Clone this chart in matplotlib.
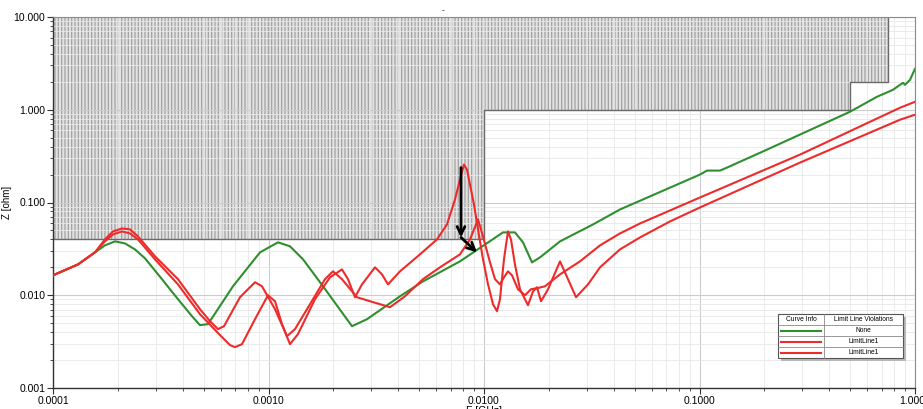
import matplotlib
matplotlib.use('Agg')
import matplotlib.pyplot as plt
from matplotlib.patches import Rectangle
from matplotlib.lines import Line2D
import matplotlib.ticker as mticker

plt.rcParams['font.family'] = ['Liberation Sans', 'DejaVu Sans']
plt.rcParams['hatch.linewidth'] = 0.9

# limit mask: frequency breakpoints (GHz) and lower edge of the forbidden area (ohm)
lim_f = [0.0001, 0.01, 0.5, 0.75]
lim_z = [0.04, 1.0, 2.0, 2.0]
lim_top = 10.0

# curve 1 (green) - passes the limit
f_green = [1.00e-4, 1.306e-4, 1.566e-4, 1.742e-4, 1.940e-4, 2.158e-4, 2.401e-4, 2.673e-4,
           3.204e-4, 3.802e-4, 4.416e-4, 4.809e-4, 5.239e-4, 6.843e-4, 9.132e-4, 1.107e-3,
           1.258e-3, 1.446e-3, 1.790e-3, 2.440e-3, 2.865e-3, 4.075e-3, 5.210e-3, 7.735e-3,
           1.225e-2, 1.392e-2, 1.517e-2, 1.670e-2, 1.819e-2, 2.253e-2, 3.205e-2, 4.276e-2,
           0.1005, 0.1083, 0.1245, 0.1341, 0.2056, 0.4993, 0.6662, 0.7903, 0.8520, 0.8797,
           0.8986, 0.9480, 1.000]
z_green = [0.0164, 0.0215, 0.0290, 0.0345, 0.0381, 0.0362, 0.0312, 0.0250,
           0.0149, 0.00906, 0.00594, 0.00476, 0.00488, 0.0125, 0.0290, 0.0372,
           0.0337, 0.0244, 0.0125, 0.00464, 0.00552, 0.00975, 0.0141, 0.0232,
           0.0476, 0.0476, 0.0372, 0.0226, 0.0256, 0.0381, 0.0580, 0.0841,
           0.200, 0.2208, 0.2208, 0.2378, 0.3715, 0.9517, 1.380, 1.641, 1.857, 1.951,
           1.857, 2.101, 2.760]

# curve 2 (red) - second resonance just below 10 MHz
f_red_a = [1.00e-4, 1.306e-4, 1.566e-4, 1.742e-4, 1.899e-4, 2.090e-4, 2.277e-4, 2.479e-4,
           2.973e-4, 3.802e-4, 4.809e-4, 5.352e-4, 5.830e-4, 6.216e-4, 7.375e-4, 8.657e-4,
           9.329e-4, 1.072e-3, 1.218e-3, 1.327e-3, 1.558e-3, 1.829e-3, 1.992e-3, 2.193e-3,
           2.574e-3, 2.958e-3, 3.663e-3, 4.298e-3, 5.210e-3, 6.248e-3, 7.735e-3, 8.610e-3,
           9.380e-3, 9.895e-3, 1.066e-2, 1.125e-2, 1.186e-2, 1.238e-2, 1.292e-2, 1.349e-2,
           1.438e-2, 1.550e-2, 1.652e-2, 1.761e-2, 1.919e-2, 2.253e-2, 2.790e-2, 3.454e-2,
           4.276e-2, 5.295e-2, 0.1005, 0.2926, 0.8520, 1.000]
z_red_a = [0.0164, 0.0215, 0.0290, 0.0400, 0.0488, 0.0525, 0.0513, 0.0431,
           0.0263, 0.0149, 0.00707, 0.00525, 0.00431, 0.00464, 0.00952, 0.0138,
           0.0125, 0.00707, 0.00362, 0.00431, 0.00800, 0.0149, 0.0181, 0.0149,
           0.00952, 0.00862, 0.00743, 0.00975, 0.0149, 0.0200, 0.0276, 0.0400,
           0.0657, 0.0431, 0.0226, 0.0149, 0.0131, 0.0156, 0.0181, 0.0164,
           0.0116, 0.0100, 0.0116, 0.0119, 0.0125, 0.0168, 0.0232, 0.0345,
           0.0464, 0.0594, 0.1132, 0.3282, 1.051, 1.219]

# curve 3 (red) - sharp resonance at 8 MHz inside the limit
f_red_b = [1.00e-4, 1.306e-4, 1.566e-4, 1.742e-4, 1.899e-4, 2.090e-4, 2.277e-4, 2.479e-4,
           2.973e-4, 3.802e-4, 4.809e-4, 5.955e-4, 6.627e-4, 6.991e-4, 7.535e-4, 8.657e-4,
           9.947e-4, 1.072e-3, 1.155e-3, 1.258e-3, 1.370e-3, 1.643e-3, 1.929e-3, 2.193e-3,
           2.338e-3, 2.520e-3, 2.716e-3, 3.120e-3, 3.362e-3, 3.585e-3, 4.075e-3, 5.045e-3,
           6.051e-3, 6.733e-3, 7.334e-3, 7.735e-3, 8.073e-3, 8.336e-3, 8.610e-3, 8.985e-3,
           9.380e-3, 9.895e-3, 1.044e-2, 1.101e-2, 1.149e-2, 1.186e-2, 1.238e-2, 1.292e-2,
           1.334e-2, 1.392e-2, 1.469e-2, 1.600e-2, 1.688e-2, 1.761e-2, 1.839e-2, 1.982e-2,
           2.253e-2, 2.454e-2, 2.673e-2, 3.039e-2, 3.454e-2, 4.276e-2, 5.295e-2, 7.295e-2,
           0.1005, 0.2926, 0.8520, 1.000]
z_red_b = [0.0164, 0.0215, 0.0290, 0.0381, 0.0453, 0.0488, 0.0464, 0.0400,
           0.0244, 0.0131, 0.00625, 0.00372, 0.00290, 0.00276, 0.00297, 0.00552,
           0.0100, 0.00862, 0.00488, 0.00297, 0.00381, 0.00906, 0.0156, 0.0190,
           0.0149, 0.00952, 0.0131, 0.0200, 0.0168, 0.0131, 0.0181, 0.0276,
           0.0400, 0.0580, 0.1077, 0.1767, 0.2563, 0.2263, 0.1561, 0.0952,
           0.0513, 0.0244, 0.0131, 0.00800, 0.00673, 0.00906, 0.0244, 0.0488,
           0.0400, 0.0215, 0.0116, 0.00781, 0.0110, 0.0122, 0.00862, 0.0116,
           0.0232, 0.0149, 0.00952, 0.0131, 0.0200, 0.0312, 0.0420, 0.0625,
           0.0884, 0.2692, 0.7807, 0.8835]

x_ticks = [0.0001, 0.001, 0.01, 0.1, 1.0]
x_labels = ['0.0001', '0.0010', '0.0100', '0.1000', '1.0000']
y_ticks = [0.001, 0.01, 0.1, 1.0, 10.0]
y_labels = ['0.001', '0.010', '0.100', '1.000', '10.000']

# arrows marking the shift of the resonance
arrow_down = ((7.82e-3, 0.238), (7.82e-3, 0.042))
arrow_side = ((7.82e-3, 0.042), (9.28e-3, 0.029))

legend_rows = [('#2f8f2f', 'None'), ('#ee2b2b', 'LimitLine1'), ('#ee2b2b', 'LimitLine1')]

W, H = 923, 409
fig = plt.figure(figsize=(W / 100, H / 100), dpi=100)
ax = fig.add_axes([53 / W, 1 - 388 / H, (915 - 53) / W, (388 - 17) / H])
ax.set_xscale('log')
ax.set_yscale('log')
ax.set_xlim(1e-4, 1.0)
ax.set_ylim(1e-3, 10.0)

ax.grid(which='major', color='#cdcdcd', lw=0.8, zorder=0)
ax.grid(which='minor', color='#e8e8e8', lw=0.6, zorder=0)

# forbidden area above the limit line
ax.fill_between(lim_f, lim_z, lim_top, step='post', facecolor='#e2e2e2',
                edgecolor='#a2a2a2', hatch='|||||', linewidth=0, zorder=1)
edge_f = [lim_f[0], lim_f[1], lim_f[1], lim_f[2], lim_f[2], lim_f[3], lim_f[3]]
edge_z = [lim_z[0], lim_z[0], lim_z[1], lim_z[1], lim_z[2], lim_z[2], lim_top]
ax.plot(edge_f, edge_z, color='#6a6a6a', lw=1.0, zorder=2)

ax.plot(f_green, z_green, color='#2f8f2f', lw=1.5, zorder=4)
ax.plot(f_red_a, z_red_a, color='#ee2b2b', lw=1.5, zorder=4)
ax.plot(f_red_b, z_red_b, color='#ee2b2b', lw=1.5, zorder=4)

for start, end in (arrow_down, arrow_side):
    ax.annotate('', xy=end, xytext=start,
                arrowprops=dict(arrowstyle='->', color='black', lw=2.0,
                                mutation_scale=14, shrinkA=0, shrinkB=0),
                zorder=5)

ax.set_xticks(x_ticks)
ax.set_xticklabels(x_labels)
ax.set_yticks(y_ticks)
ax.set_yticklabels(y_labels)
ax.xaxis.set_minor_locator(mticker.LogLocator(base=10, subs=range(2, 10), numticks=20))
ax.yaxis.set_minor_locator(mticker.LogLocator(base=10, subs=range(2, 10), numticks=20))
ax.xaxis.set_minor_formatter(mticker.NullFormatter())
ax.yaxis.set_minor_formatter(mticker.NullFormatter())
ax.tick_params(which='major', length=4, width=0.8, labelsize=7.5, pad=1.5, color='#333333')
ax.tick_params(which='minor', length=2, width=0.6, color='#333333')

for side in ('top', 'right'):
    ax.spines[side].set_color('#8a8a8a')
    ax.spines[side].set_linewidth(0.8)
for side in ('left', 'bottom'):
    ax.spines[side].set_color('#333333')
    ax.spines[side].set_linewidth(1.0)

ax.set_xlabel('F [GHz]', fontsize=7.5, labelpad=0)
ax.set_ylabel('Z [ohm]', fontsize=7, labelpad=1)

fig.text(443 / W, 1 - 11 / H, '-', fontsize=6, ha='center', va='center')


# small table-style legend in figure pixels
def fx(px):
    return px / W


def fy(py):
    return 1 - py / H


left, right, mid = 778, 903, 824
top, row_h = 314, 11
bottom = top + row_h * 4
fig.patches.append(Rectangle((fx(left + 3), fy(bottom + 3)), (right - left) / W,
                             (bottom - top) / H, transform=fig.transFigure,
                             facecolor='#b8b8b8', edgecolor='none', zorder=6))
fig.patches.append(Rectangle((fx(left), fy(bottom)), (right - left) / W,
                             (bottom - top) / H, transform=fig.transFigure,
                             facecolor='white', edgecolor='#555555', lw=0.8, zorder=7))
fig.lines.append(Line2D([fx(mid), fx(mid)], [fy(top), fy(bottom)],
                        transform=fig.transFigure, color='#888888', lw=0.6, zorder=8))
for i in range(1, 4):
    yy = fy(top + row_h * i)
    fig.lines.append(Line2D([fx(left), fx(right)], [yy, yy],
                            transform=fig.transFigure, color='#888888', lw=0.6, zorder=8))
fig.text(fx((left + mid) / 2), fy(top + row_h / 2), 'Curve Info', fontsize=4.8,
         ha='center', va='center', zorder=9)
fig.text(fx((mid + right) / 2), fy(top + row_h / 2), 'Limit Line Violations', fontsize=4.8,
         ha='center', va='center', zorder=9)
for i, (col, txt) in enumerate(legend_rows):
    yc = fy(top + row_h * (i + 1.5))
    fig.lines.append(Line2D([fx(781), fx(821)], [yc, yc], transform=fig.transFigure,
                            color=col, lw=1.5, zorder=9))
    fig.text(fx((mid + right) / 2), yc, txt, fontsize=4.8, ha='center', va='center', zorder=9)

fig.savefig('out.png', dpi=100)
